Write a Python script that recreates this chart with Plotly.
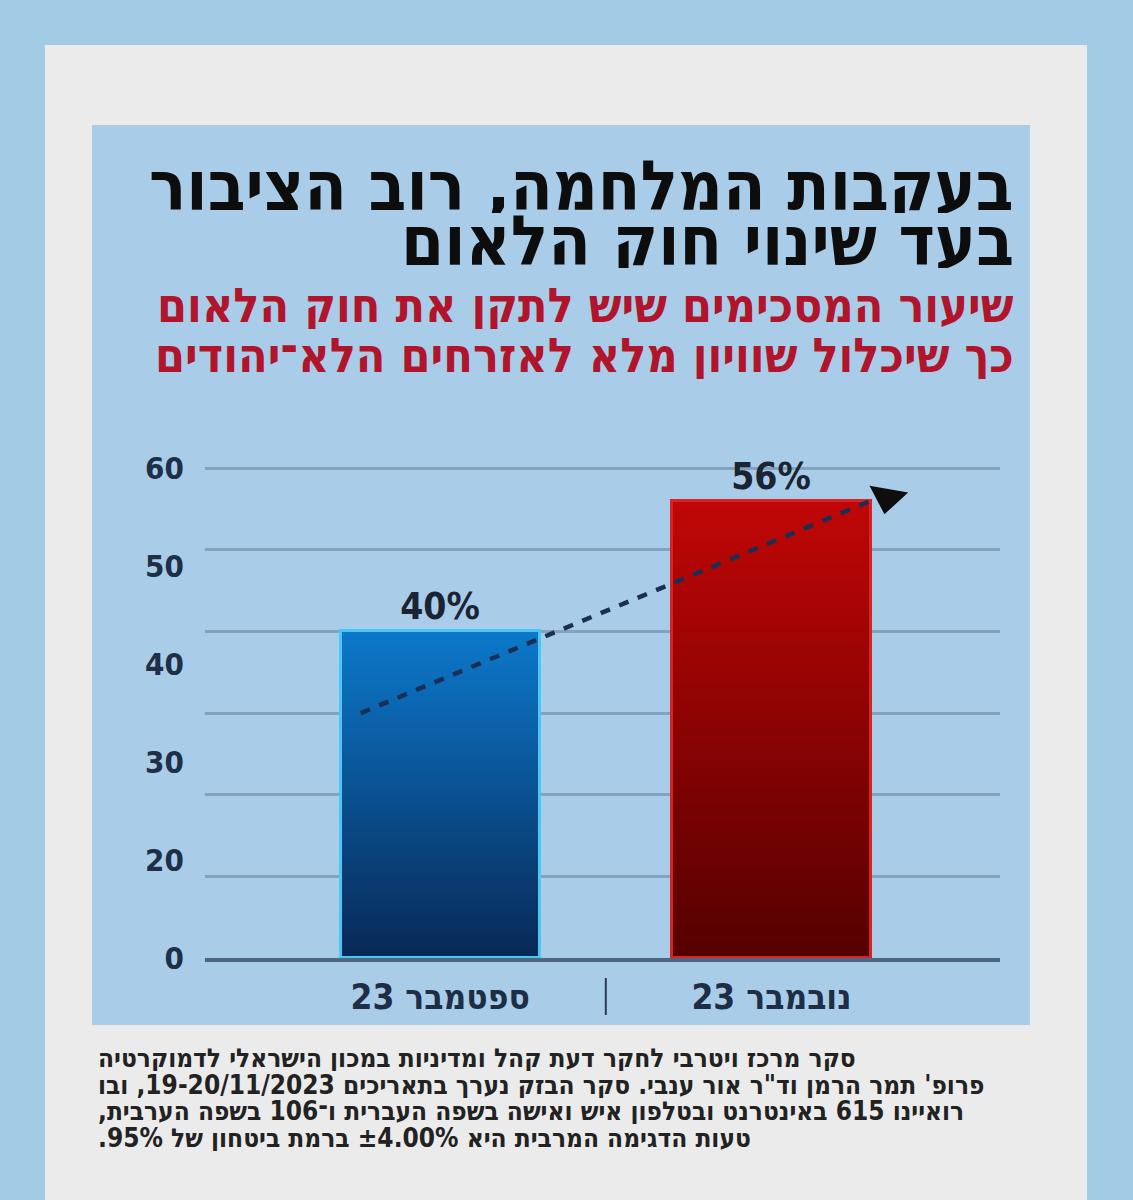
import plotly.graph_objects as go
import numpy as np

# ---------------- data ----------------
categories = ["23 ספטמבר", "23 נובמבר"]
values = [40, 56]
value_labels = ["40%", "56%"]
ytick_labels = ["0", "20", "30", "40", "50", "60"]

title_lines = ["בעקבות המלחמה, רוב הציבור", "בעד שינוי חוק הלאום"]
subtitle_lines = ["שיעור המסכימים שיש לתקן את חוק הלאום",
                  "כך שיכלול שוויון מלא לאזרחים הלא־יהודים"]
footnote_lines = [
    "סקר מרכז ויטרבי לחקר דעת קהל ומדיניות במכון הישראלי לדמוקרטיה",
    "פרופ' תמר הרמן וד\"ר אור ענבי. סקר הבזק נערך בתאריכים 19-20/11/2023, ובו",
    "רואיינו 615 באינטרנט ובטלפון איש ואישה בשפה העברית ו־106 בשפה הערבית,",
    "טעות הדגימה המרבית היא ±4.00% ברמת ביטחון של 95%.",
]

# ---------------- style ----------------
W, H = 1133, 1200
ML, MR, MT, MB = 205, 133, 460, 242
PW, PH = W - ML - MR, H - MT - MB
FONT = "DejaVu Sans Condensed, DejaVu Sans, Liberation Sans, sans-serif"

def px_x(px):
    return (px - ML) / PW

def px_y(py):
    return (H - MB - py) / PH

def rtl(s):
    return "\u202B" + s + "\u202C"

def mix(c1, c2, t):
    a = np.array(c1, float); b = np.array(c2, float)
    r, g, bb = (a + (b - a) * t).round().astype(int)
    return f"rgb({r},{g},{bb})"

bottoms = [(8, 40, 86), (84, 0, 0)]
tops = [(12, 120, 202), (192, 6, 6)]
edge_colors = ["#4cc6f2", "#d42424"]

xpos = list(range(len(categories)))

fig = go.Figure()

# gradient fill: nested bars from the baseline, tallest first, each
# shorter one painted with the colour at its own top
N = 80
for i in range(N):
    frac = 1 - i / N
    fig.add_trace(go.Bar(
        x=xpos,
        y=[v * frac for v in values],
        width=0.6,
        marker=dict(color=[mix(bottoms[k], tops[k], frac) for k in range(2)],
                    line=dict(width=0)),
        hoverinfo="skip", showlegend=False,
    ))

# outline + value labels
fig.add_trace(go.Bar(
    x=xpos, y=values, width=0.6,
    marker=dict(color="rgba(0,0,0,0)", line=dict(width=3, color=edge_colors)),
    text=value_labels, textposition="outside",
    textfont=dict(family=FONT, size=37, color="#1b2432", weight="bold"),
    cliponaxis=False, showlegend=False,
))

# dashed trend arrow (from first bar's left part to top-right of last bar)
trend_x = [xpos[0] - 0.24, xpos[-1] + 0.30]
trend_y = [values[0] - 10, values[-1]]
fig.add_trace(go.Scatter(
    x=trend_x, y=trend_y, mode="lines",
    line=dict(color="#1a2f52", width=4.5, dash="10px,10px"),
    showlegend=False, hoverinfo="skip", cliponaxis=False,
))
fig.add_trace(go.Scatter(
    x=[trend_x[1] + 0.05], y=[trend_y[1] + 0.4], mode="markers",
    marker=dict(symbol="triangle-down", size=34, color="#0e0e0e", angle=10),
    showlegend=False, hoverinfo="skip", cliponaxis=False,
))

shapes = [
    dict(type="rect", xref="paper", yref="paper", layer="below",
         x0=px_x(45), x1=px_x(1087), y0=px_y(1210), y1=px_y(45),
         fillcolor="#ebebeb", line=dict(width=0)),
    dict(type="rect", xref="paper", yref="paper", layer="below",
         x0=px_x(92), x1=px_x(1030), y0=px_y(1025), y1=px_y(125),
         fillcolor="#a9cde9", line=dict(width=0)),
    dict(type="line", xref="x", yref="paper",
         x0=(xpos[0] + xpos[1]) / 2, x1=(xpos[0] + xpos[1]) / 2,
         y0=px_y(1015), y1=px_y(978), line=dict(color="#2a3c52", width=2)),
]

annotations = []
for i, line in enumerate(title_lines):
    annotations.append(dict(
        text=rtl(line), xref="paper", yref="paper",
        x=px_x(1016), y=px_y(186 + 55 * i), xanchor="right", yanchor="middle",
        showarrow=False, height=54, valign="middle",
        font=dict(family=FONT, size=69, color="#0d0d0d", weight="bold")))
for i, line in enumerate(subtitle_lines):
    annotations.append(dict(
        text=rtl(line), xref="paper", yref="paper",
        x=px_x(1016), y=px_y(305 + 50 * i), xanchor="right", yanchor="middle",
        showarrow=False, height=48, valign="middle",
        font=dict(family=FONT, size=48, color="#b0152b", weight="bold")))
for i, line in enumerate(footnote_lines):
    annotations.append(dict(
        text=rtl(line), xref="paper", yref="paper",
        x=px_x(96), y=px_y(1058 + 26.5 * i), xanchor="left", yanchor="middle",
        showarrow=False, height=26, valign="middle",
        font=dict(family=FONT, size=26, color="#222222", weight="bold")))

fig.update_layout(
    width=W, height=H,
    margin=dict(l=ML, r=MR, t=MT, b=MB, pad=0),
    paper_bgcolor="#a2cbe5",
    plot_bgcolor="rgba(0,0,0,0)",
    barmode="overlay",
    bargap=0,
    shapes=shapes,
    annotations=annotations,
    xaxis=dict(
        range=[-0.71, 1.69], showgrid=False, zeroline=False,
        tickvals=xpos, ticktext=categories,
        showline=True, linecolor="#4d6680", linewidth=4,
        ticks="outside", ticklen=5, tickcolor="rgba(0,0,0,0)",
        tickfont=dict(family=FONT, size=35, color="#1e2e44", weight="bold"),
    ),
    yaxis=dict(
        range=[0, 61], showgrid=False, zeroline=False, showline=False,
        tickvals=list(np.linspace(0, 60, len(ytick_labels))),
        ticktext=ytick_labels,
        ticks="outside", ticklen=14, tickcolor="rgba(0,0,0,0)",
        tickfont=dict(family=FONT, size=31, color="#1e3048", weight="bold"),
        minor=dict(dtick=10, tick0=0, showgrid=True, gridcolor="#83a2bb",
                   gridwidth=3, ticks=""),
    ),
)

fig.write_html("out.html", config={"displayModeBar": False},
               post_script="document.body.style.margin='0';")
